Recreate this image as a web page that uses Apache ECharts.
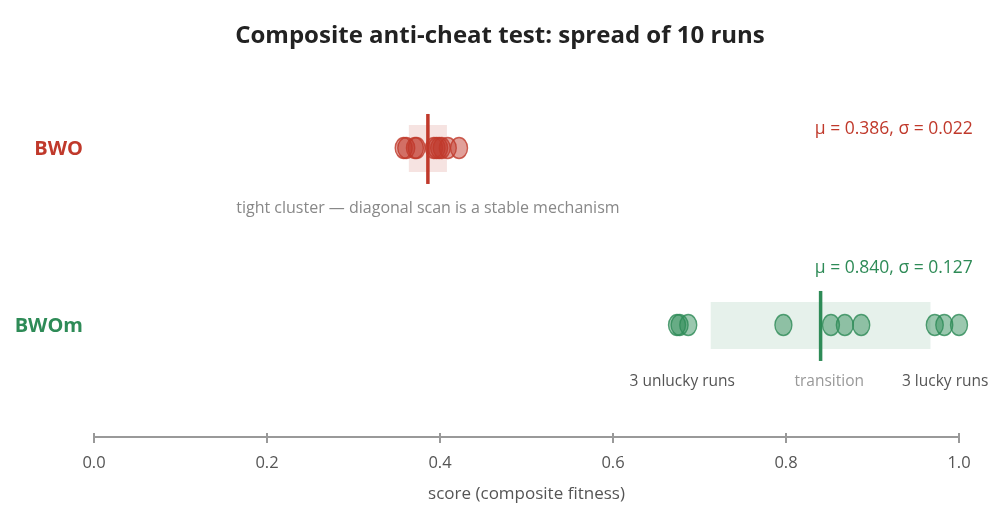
<!DOCTYPE html>
<html>
<head>
<meta charset="utf-8">
<script src="https://cdn.jsdelivr.net/npm/echarts@6/dist/echarts.min.js"></script>
<style>
  html, body { margin: 0; padding: 0; background: #fff; }
  #chart { width: 1000px; height: 526px; }
</style>
</head>
<body>
<div id="chart"></div>
<script>
// run scores
const groups = ['BWO', 'BWOm'];
const rowY = [1, 0];
const colors = ['#c0392b', '#2e8b57'];
const bwoRuns = [0.358, 0.361, 0.371, 0.373, 0.393, 0.396, 0.399, 0.402, 0.409, 0.422];
const bwomRuns = [0.674, 0.677, 0.687, 0.797, 0.852, 0.868, 0.887, 0.972, 0.983, 1.000];
const means = [0.386, 0.840];
const sigmas = [0.022, 0.127];
const xTicks = [0, 0.2, 0.4, 0.6, 0.8, 1.0];

// annotations: [row, x value, pixel dy, text, colour, align, size]
const notes = [
  [0, 0.386, 60, 'tight cluster \u2014 diagonal scan is a stable mechanism', '#888', 'center', 16],
  [0, 1.016, -19, '\u03bc = 0.386, \u03c3 = 0.022', '#c0392b', 'right', 17.5],
  [1, 1.016, -57, '\u03bc = 0.840, \u03c3 = 0.127', '#2e8b57', 'right', 17.5],
  [1, 0.680, 57, '3 unlucky runs', '#555', 'center', 15.5],
  [1, 0.850, 57, 'transition', '#999', 'center', 15.5],
  [1, 0.984, 57, '3 lucky runs', '#555', 'center', 15.5]
];

const FONT = '"Open Sans", sans-serif';
const chart = echarts.init(document.getElementById('chart'));

const runs = [bwoRuns, bwomRuns];

function hexA(hex, a) {
  const n = parseInt(hex.slice(1), 16);
  return 'rgba(' + (n >> 16) + ',' + ((n >> 8) & 255) + ',' + (n & 255) + ',' + a + ')';
}

const bandSeries = {
  type: 'custom',
  z: 1,
  silent: true,
  data: groups.map((g, i) => [means[i], rowY[i], sigmas[i], i]),
  renderItem: function (params, api) {
    const m = api.value(0), y = api.value(1), s = api.value(2), i = api.value(3);
    const lo = api.coord([m - s, y]);
    const hi = api.coord([m + s, y]);
    const c = api.coord([m, y]);
    return {
      type: 'group',
      children: [
        { type: 'rect', shape: { x: lo[0], y: c[1] - 23, width: hi[0] - lo[0], height: 47 },
          style: { fill: hexA(colors[i], i === 0 ? 0.14 : 0.12) } },
        { type: 'rect', z2: 20, shape: { x: c[0] - 1.75, y: c[1] - 34, width: 3.5, height: 70 },
          style: { fill: colors[i] } },
        { type: 'text', style: { text: groups[i], x: 83, y: c[1] + 1, align: 'right', verticalAlign: 'middle',
          fill: colors[i], font: 'bold 20px ' + FONT } }
      ]
    };
  }
};

const noteSeries = {
  type: 'custom',
  silent: true,
  data: notes.map(n => [n[1], rowY[n[0]], n[2]]),
  renderItem: function (params, api) {
    const n = notes[params.dataIndex];
    const p = api.coord([api.value(0), api.value(1)]);
    return {
      type: 'text',
      style: { text: n[3], x: p[0], y: p[1] + n[2], align: n[5], verticalAlign: 'middle',
        fill: n[4], font: n[6] + 'px ' + FONT }
    };
  }
};

const dotSeries = runs.map((r, i) => ({
  type: 'scatter',
  z: 10,
  symbol: 'circle',
  symbolSize: [17, 21],
  data: r.map(v => [v, rowY[i]]),
  itemStyle: { color: hexA(colors[i], 0.6), borderColor: colors[i], borderWidth: 1.5 }
}));

const option = {
  animation: false,
  textStyle: { fontFamily: FONT },
  title: {
    text: 'Composite anti-cheat test: spread of 10 runs',
    left: 'center', top: 19,
    textStyle: { fontSize: 24, fontWeight: 'bold', color: '#222', fontFamily: FONT }
  },
  grid: { left: 94, right: 41, top: 60, bottom: 89 },
  xAxis: [{
    type: 'value', min: 0, max: 1, interval: 0.2,
    name: 'score (composite fitness)', nameLocation: 'middle', nameGap: 49,
    nameTextStyle: { fontSize: 17, color: '#555' },
    axisLine: { show: true, onZero: false, lineStyle: { color: '#999', width: 2 } },
    axisTick: { show: true, length: 6, lineStyle: { color: '#999', width: 2 } },
    axisLabel: { fontSize: 16.5, color: '#555', margin: 18,
      formatter: v => xTicks.includes(+v.toFixed(1)) ? v.toFixed(1) : '' },
    splitLine: { show: false }
  }, {
    type: 'value', min: 0, max: 1, interval: 0.2, position: 'bottom',
    axisLine: { show: false, onZero: false },
    axisTick: { show: true, inside: true, length: 4, lineStyle: { color: '#999', width: 2 } },
    axisLabel: { show: false },
    splitLine: { show: false }
  }],
  yAxis: { type: 'value', min: -0.633, max: 1.497, show: false },
  series: [bandSeries].concat(dotSeries, [noteSeries])
};

chart.setOption(option);
</script>
</body>
</html>
